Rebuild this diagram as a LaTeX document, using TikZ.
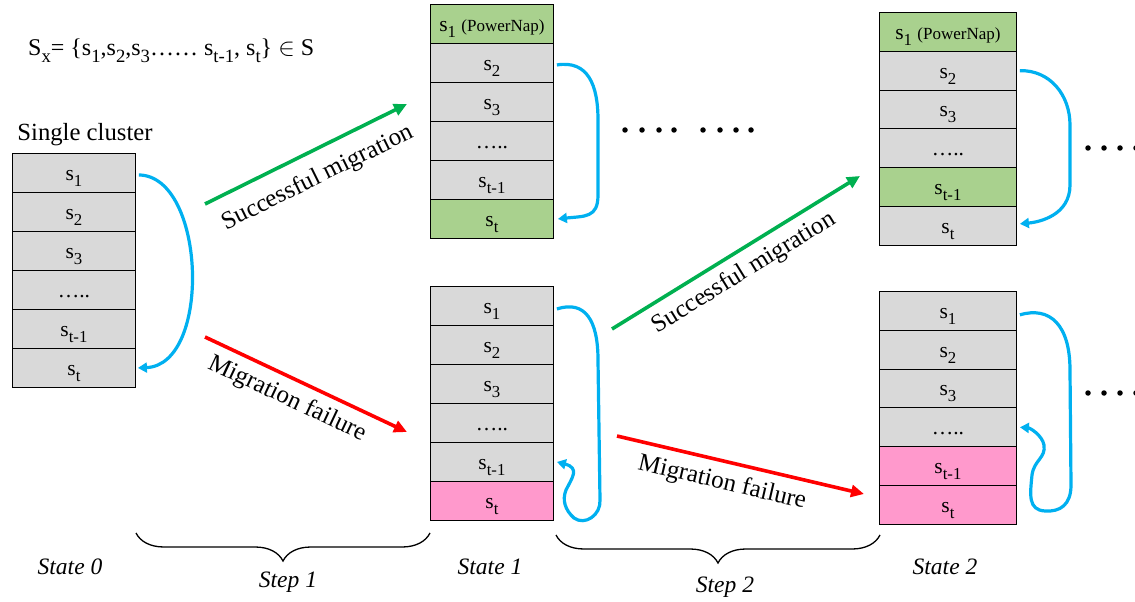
\documentclass[tikz,border=0pt]{standalone}
\usepackage{fontspec}
\usepackage{graphicx}
\setmainfont{Liberation Serif}
\usetikzlibrary{arrows.meta,decorations.pathreplacing}
\definecolor{cgrey}{HTML}{D9D9D9}
\definecolor{cgreen}{HTML}{A9D18E}
\definecolor{cpink}{HTML}{FF99CC}
\definecolor{cblue}{HTML}{00B0F0}
\definecolor{agreen}{HTML}{00B050}
\definecolor{ared}{HTML}{FF0000}
\newcommand\subx[1]{\raisebox{-0.28em}{\scalebox{0.78}{#1}}}
\newcommand\pnfont{\fontsize{17bp}{18bp}\selectfont}
\begin{document}
\begin{tikzpicture}[x=1bp,y=-1bp,
  cell/.style={draw=black, line width=0.9bp, minimum height=39bp, inner sep=0pt, anchor=north west,
    text height=17bp, text depth=2bp,
    font=\fontsize{21.5bp}{23bp}\selectfont, fill=cgrey},
  cellA/.style={cell, minimum width=123bp},
  cellB/.style={cell, minimum width=137bp, minimum height=38.8bp},
  loop/.style={draw=cblue, line width=3.2bp, -{Triangle[length=9bp,width=10bp]}},
  garrow/.style={draw=agreen, line width=3.6bp, -{Triangle[length=13bp,width=12bp]}},
  rarrow/.style={draw=ared, line width=3.6bp, -{Triangle[length=13bp,width=12bp]}},
  lab/.style={font=\fontsize{25bp}{27bp}\selectfont, inner sep=0pt},
  stlab/.style={font=\fontsize{23.5bp}{25bp}\selectfont\itshape, inner sep=0pt},
  dot/.style={circle, fill=black, inner sep=0pt, minimum size=5.5bp},
  brace/.style={draw=black, line width=1.3bp, decorate, decoration={brace, mirror, amplitude=28bp}}
]
\useasboundingbox (0,0) rectangle (1135,602);

% formula
\node[anchor=west, inner sep=0pt, font=\fontsize{24bp}{26bp}\selectfont] (formula) at (28,51)
  {S\subx{x}= \{s\subx{1},s\subx{2},s\subx{3}…… s\subx{t-1}, s\subx{t}\} $\in$ S};
\node[inner sep=0pt, font=\fontsize{24.7bp}{26bp}\selectfont] (single) at (85,135) {Single cluster};

% State 0
\node[cellA] (a1) at (12,153) {s\subx{1}};
\node[cellA] (a2) at (12,192) {s\subx{2}};
\node[cellA] (a3) at (12,231) {s\subx{3}};
\node[cellA] (a4) at (12,270) {…..};
\node[cellA] (a5) at (12,309) {s\subx{t-1}};
\node[cellA] (a6) at (12,348) {s\subx{t}};

% State 1 top
\node[cellA, fill=cgreen] (b1) at (430,4) {s\subx{1} {\pnfont (PowerNap)}};
\node[cellA] (b2) at (430,43) {s\subx{2}};
\node[cellA] (b3) at (430,82) {s\subx{3}};
\node[cellA] (b4) at (430,121) {…..};
\node[cellA] (b5) at (430,160) {s\subx{t-1}};
\node[cellA, fill=cgreen] (b6) at (430,199) {s\subx{t}};

% State 1 bottom
\node[cellA] (c1) at (430,286) {s\subx{1}};
\node[cellA] (c2) at (430,325) {s\subx{2}};
\node[cellA] (c3) at (430,364) {s\subx{3}};
\node[cellA] (c4) at (430,403) {…..};
\node[cellA] (c5) at (430,442) {s\subx{t-1}};
\node[cellA, fill=cpink] (c6) at (430,481) {s\subx{t}};

% State 2 top
\node[cellB, fill=cgreen] (d1) at (879,12) {s\subx{1} {\pnfont (PowerNap)}};
\node[cellB] (d2) at (879,50.8) {s\subx{2}};
\node[cellB] (d3) at (879,89.6) {s\subx{3}};
\node[cellB] (d4) at (879,128.4) {…..};
\node[cellB, fill=cgreen] (d5) at (879,167.2) {s\subx{t-1}};
\node[cellB] (d6) at (879,206) {s\subx{t}};

% State 2 bottom
\node[cellB] (e1) at (879,291) {s\subx{1}};
\node[cellB] (e2) at (879,329.8) {s\subx{2}};
\node[cellB] (e3) at (879,368.6) {s\subx{3}};
\node[cellB] (e4) at (879,407.4) {…..};
\node[cellB, fill=cpink] (e5) at (879,446.2) {s\subx{t-1}};
\node[cellB, fill=cpink] (e6) at (879,485) {s\subx{t}};

% blue loops
\draw[loop] ([xshift=3bp,yshift=-2bp]a1.east) .. controls (206,176) and (212,365) .. ([xshift=2bp]a6.east);
\draw[loop] ([xshift=3bp,yshift=-2bp]b2.east) .. controls (588,60) and (598,85) .. (598,120)
   -- (598,195) .. controls (598,218) and (585,216) .. ([xshift=4bp]b6.east);
\draw[loop] ([xshift=3bp,yshift=-3bp]c1.east) .. controls (585,300) and (598,320) .. (598,360)
   -- (600,500) .. controls (601,515) and (585,526) .. (574,518)
   .. controls (565,510) and (562,500) .. (566,490)
   .. controls (572,478) and (580,468) .. ([xshift=3bp]c5.east);
\draw[loop] ([xshift=3bp]d2.east) .. controls (1050,70) and (1070,95) .. (1070,125)
   -- (1070,185) .. controls (1070,215) and (1040,222) .. ([xshift=3bp,yshift=2bp]d6.east);
\draw[loop] ([xshift=3bp,yshift=-4bp]e1.east) .. controls (1050,306) and (1070,325) .. (1070,370)
   -- (1071,485) .. controls (1071,505) and (1060,512) .. (1045,511)
   .. controls (1028,510) and (1030,495) .. (1032,475)
   .. controls (1034,460) and (1046,458) .. (1044,445)
   .. controls (1042,435) and (1030,428) .. ([xshift=3bp]e4.east);

% migration arrows
\coordinate (g1s) at (205,204); \coordinate (g1e) at (407,104);
\coordinate (r1s) at (205,337); \coordinate (r1e) at (407,432);
\coordinate (g2s) at (612,329); \coordinate (g2e) at (860,176);
\coordinate (r2s) at (617,436); \coordinate (r2e) at (864,494);
\draw[garrow] (g1s) -- (g1e);
\draw[rarrow] (r1s) -- (r1e);
\draw[garrow] (g2s) -- (g2e);
\draw[rarrow] (r2s) -- (r2e);
\node[lab, rotate=26.3] (lg1) at (318,178) {Successful migration};
\node[lab, rotate=-25.2] (lr1) at (287,399) {Migration failure};
\node[lab, rotate=31.7] (lg2) at (744,273) {Successful migration};
\node[lab, rotate=-13.2] (lr2) at (722,483) {Migration failure};

% dots
\foreach \x [count=\i] in {625,642,659,674,703,720,736,751} \node[dot] (td\i) at (\x,130) {};
\foreach \x [count=\i] in {1088,1104,1120,1136} \node[dot] (rd\i) at (\x,148) {};
\foreach \x [count=\i] in {1088,1104,1120,1136} \node[dot] (sd\i) at (\x,393) {};

% braces
\coordinate (b1a) at (136,533); \coordinate (b1b) at (430,533);
\coordinate (b2a) at (556,535); \coordinate (b2b) at (880,535);
\draw[brace] (b1a) -- (b1b);
\draw[brace] (b2a) -- (b2b);

% state labels
\node[stlab] (s0) at (70,567) {State 0};
\node[stlab] (st1) at (288,582) {Step 1};
\node[stlab] (s1) at (490,567) {State 1};
\node[stlab] (st2) at (725,587) {Step 2};
\node[stlab] (s2) at (945,567) {State 2};
\end{tikzpicture}
\end{document}
